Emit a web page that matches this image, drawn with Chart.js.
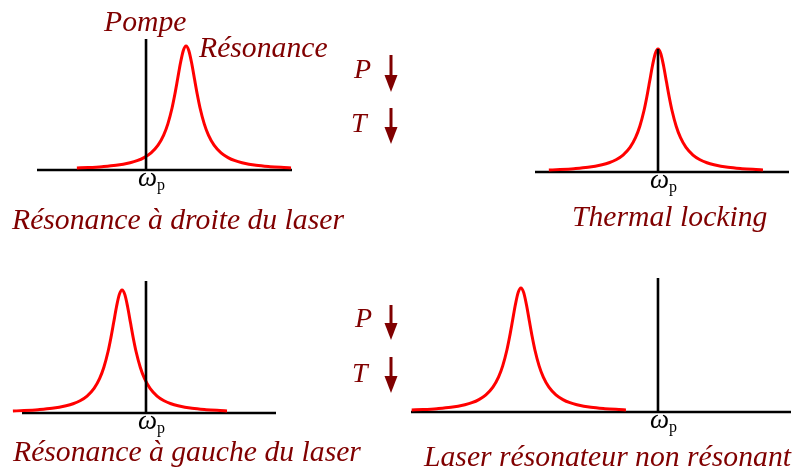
<!DOCTYPE html>
<html><head><meta charset="utf-8">
<script src="https://cdn.jsdelivr.net/npm/chart.js@4"></script>
<style>
html,body{margin:0;padding:0;background:#fff;}
body{width:796px;height:469px;position:relative;overflow:hidden;}
.panel{position:absolute;}
.lbl{position:absolute;font-family:"Liberation Serif","Times New Roman",serif;font-style:italic;color:#800000;line-height:1;white-space:nowrap;font-size:29.7px;}
.sym{font-size:28px;}
.omega{position:absolute;font-family:"Liberation Serif","Times New Roman",serif;line-height:1;white-space:nowrap;color:#000;font-size:27px;}
.omega i{font-size:27px;}
.omega span{font-size:16px;position:relative;top:4px;margin-left:0px;}
svg.arrows{position:absolute;left:0;top:0;}
</style></head><body>
<div id="root"></div>
<svg class="arrows" width="796" height="469" id="arrows"></svg>
<script>
// ---- data ----
// Resonance line shape: detuning from the peak (in linewidths) and normalised intensity
const profileOffset = [-7.8, -7, -6, -5, -4, -3.5, -3, -2.5, -2, -1.6, -1.3, -1, -0.8, -0.6, -0.4, -0.2, 0,
                        0.2, 0.4, 0.6, 0.8, 1, 1.3, 1.6, 2, 2.5, 3, 3.5, 4, 5, 6, 7, 7.5];
const profileHeight = [0.016, 0.020, 0.027, 0.038, 0.059, 0.075, 0.100, 0.138, 0.200, 0.281, 0.372, 0.500, 0.610, 0.735, 0.862, 0.962, 1.000,
                        0.962, 0.862, 0.735, 0.610, 0.500, 0.372, 0.281, 0.200, 0.138, 0.100, 0.075, 0.059, 0.038, 0.027, 0.020, 0.017];
// Position of the resonance relative to the pump frequency (linewidths), per panel
const resonanceCenter = [2.86, 0, -1.71, -9.79];
// Frequency axis extent per panel (linewidths, pump at 0)
const axisMin = [-7.79, -8.79, -8.86, -17.64];
const axisMax = [10.43, 9.36, 9.29, 9.5];
// Height of the pump line (relative to resonance peak)
const pumpHeight = [1.056, 1.0, 1.073, 1.08];
const panelTitles = ["Résonance à droite du laser", "Thermal locking", "Résonance à gauche du laser", "Laser résonateur non résonant"];
const pumpLabel = "Pompe";
const resonanceLabel = "Résonance";
const trendLabels = ["P", "T"];

// ---- layout (pixels) ----
const PAD = 14;
const panelArea = [ // chart-area left, top, right, bottom
  [37, 39, 292, 170],
  [535, 49, 789, 172],
  [22, 281, 276, 413],
  [411, 278, 791, 412]
];
const titlePos = [[12, 205], [572, 202], [13, 437], [424, 442]];
const omegaPos = [[138, 163.5], [650, 165.5], [138, 406.5], [650, 405.5]];
const labelPos = {pompe: [104, 7], res: [199, 33]};
const symPos = [[354, 55, 0], [351, 109, 1], [355, 304, 0], [352, 359, 1]];
const arrowPos = [[391, 55, 92], [391, 108, 144], [391, 305, 340], [391, 357, 393]];

const root = document.getElementById('root');
function addLabel(cls, text, x, y) {
  const d = document.createElement('div');
  d.className = cls;
  d.textContent = text;
  d.style.left = x + 'px';
  d.style.top = y + 'px';
  document.body.appendChild(d);
  return d;
}

for (let i = 0; i < 4; i++) {
  const [l, t, r, b] = panelArea[i];
  const div = document.createElement('div');
  div.className = 'panel';
  div.style.left = (l - PAD) + 'px';
  div.style.top = (t - PAD) + 'px';
  div.style.width = (r - l + 2 * PAD) + 'px';
  div.style.height = (b - t + 2 * PAD) + 'px';
  const cv = document.createElement('canvas');
  div.appendChild(cv);
  root.appendChild(div);

  const curve = profileOffset.map((o, k) => ({x: resonanceCenter[i] + o, y: profileHeight[k]}));
  new Chart(cv, {
    type: 'line',
    data: {
      datasets: [
        {data: [{x: 0, y: 0}, {x: 0, y: pumpHeight[i]}], borderColor: '#000', borderWidth: 2.6, tension: 0, order: 0, clip: false},
        {data: curve, borderColor: '#ff0000', borderWidth: 3, cubicInterpolationMode: 'monotone', order: 1, clip: false},
        {data: [{x: axisMin[i], y: 0}, {x: axisMax[i], y: 0}], borderColor: '#000', borderWidth: 2.6, tension: 0, order: 2, clip: false}
      ]
    },
    options: {
      responsive: true,
      maintainAspectRatio: false,
      animation: false,
      events: [],
      layout: {padding: PAD},
      elements: {point: {radius: 0}, line: {borderCapStyle: 'butt'}},
      plugins: {legend: {display: false}, tooltip: {enabled: false}, title: {display: false}},
      scales: {
        x: {type: 'linear', min: axisMin[i], max: axisMax[i], display: false},
        y: {type: 'linear', min: 0, max: pumpHeight[i], display: false}
      }
    }
  });

  addLabel('lbl', panelTitles[i], titlePos[i][0], titlePos[i][1]);
  const om = document.createElement('div');
  om.className = 'omega';
  om.innerHTML = '<i>ω</i><span>p</span>';
  om.style.left = omegaPos[i][0] + 'px';
  om.style.top = omegaPos[i][1] + 'px';
  document.body.appendChild(om);
}
addLabel('lbl', pumpLabel, labelPos.pompe[0], labelPos.pompe[1]);
addLabel('lbl', resonanceLabel, labelPos.res[0], labelPos.res[1]);
symPos.forEach(([x, y, k]) => addLabel('lbl sym', trendLabels[k], x, y));

const svg = document.getElementById('arrows');
let html = '';
arrowPos.forEach(([x, y0, y1]) => {
  const hh = 17, hw = 6.5;
  html += `<line x1="${x}" y1="${y0}" x2="${x}" y2="${y1 - hh + 2}" stroke="#800000" stroke-width="3"/>`;
  html += `<polygon points="${x - hw},${y1 - hh} ${x + hw},${y1 - hh} ${x},${y1}" fill="#800000"/>`;
});
svg.innerHTML = html;
</script>
</body></html>
